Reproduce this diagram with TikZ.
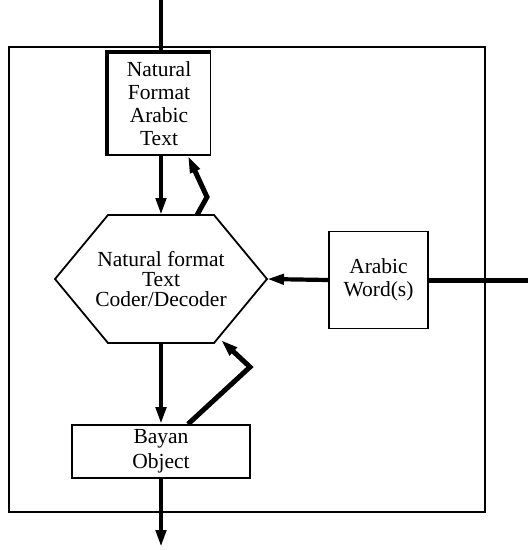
\documentclass[tikz,border=0pt]{standalone}
\usepackage{fontspec}
\setmainfont{Liberation Serif}
\usetikzlibrary{arrows.meta,calc}

\begin{document}
\begin{tikzpicture}[x=1pt,y=-1pt,
  box/.style={draw,line width=1.8pt,align=center,inner sep=0pt,
    font=\fontsize{21.5}{23}\selectfont},
  hexa/.style={align=center,inner sep=0pt,outer sep=0pt,
    minimum width=212pt,minimum height=128pt,
    font=\fontsize{21.5}{20}\selectfont},
  tip/.style={-{Triangle[length=17pt,width=10pt]}},
  flow/.style={line width=4.2pt,tip},
  feed/.style={line width=5pt,line join=miter,tip},
  wire/.style={line width=4.2pt},
]
\useasboundingbox (0,0) rectangle (528,550);

% enclosing frame
\draw[line width=2pt] (9,47) rectangle (485,512);

% blocks
\node[box,minimum width=103pt,minimum height=102pt] (src) at (159,104)
  {Natural\\Format\\Arabic\\Text};
\draw[line width=4pt] (src.south west) -- (src.north west) -- (src.north east);

% coder: hexagon outline traced through the node's anchors
\node[hexa] (coder) at (161,279) {Natural format\\Text\\Coder/Decoder};
\draw[line width=1.8pt,line join=miter]
  (coder.west) -- ($(coder.north west)+(53,0)$) -- ($(coder.north east)+(-53,0)$)
  -- (coder.east) -- ($(coder.south east)+(-53,0)$) -- ($(coder.south west)+(53,0)$)
  -- cycle;

\node[box,minimum width=99pt,minimum height=97pt] (word) at (378.5,280)
  {Arabic\\Word(s)};

\node[box,minimum width=178pt,minimum height=53pt,
  font=\fontsize{21.5}{25}\selectfont] (obj) at (161,451.5) {Bayan\\Object};

% free ends and bends
\coordinate (inTop) at (161,0);
\coordinate (inRight) at (528,280);
\coordinate (outBot) at (161,547);
\coordinate (bendA) at (207,197);
\coordinate (bendB) at (250,367);
\coordinate (tipB) at (221,340);

% main flow
\draw[wire] (inTop) -- (inTop |- src.north);
\draw[flow] (src.south -| coder.north) -- (coder.north);
\draw[flow] (coder.south) -- (obj.north);
\draw[flow] (obj.south) -- (outBot);
\draw[wire,line width=5pt] (inRight) -- (word.east);
\draw[flow] (word.west) -- (coder.east);

% feedback paths
\draw[feed] ($(coder.north)+(36,0)$) -- (bendA) -- ($(src.south)+(29,0)$);
\draw[feed] ($(obj.north)+(27,0)$) -- (bendB) -- (tipB);
\end{tikzpicture}
\end{document}
